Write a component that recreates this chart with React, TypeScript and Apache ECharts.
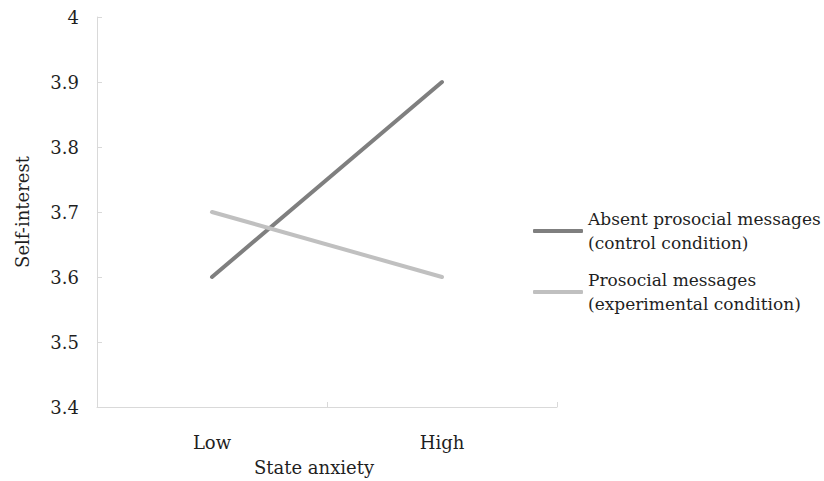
import React, { useEffect, useRef } from "react";
import * as echarts from "echarts";

const categories = ["Low", "High"];
const absentValues = [3.6, 3.9];
const prosocialValues = [3.7, 3.6];
const seriesNames = [
  "Absent prosocial messages\n(control condition)",
  "Prosocial messages\n(experimental condition)",
];
const yTicks = { min: 3.4, max: 4, interval: 0.1 };

const FONT = "DejaVu Serif";
const FS = 18;
const TEXT = "#1f1f1f";

export default function App() {
  const ref = useRef<HTMLDivElement>(null);
  useEffect(() => {
    if (!ref.current) return;
    const chart = echarts.init(ref.current, undefined, { renderer: "svg" });
    chart.setOption({
      animation: false,
      backgroundColor: "#ffffff",
      textStyle: { fontFamily: FONT, color: TEXT },
      grid: {
        left: 97,
        right: 267,
        top: 17,
        bottom: 74,
        containLabel: false,
        outerBoundsMode: "none",
      },
      legend: {
        orient: "vertical",
        left: 533,
        top: 195,
        padding: 0,
        itemGap: -11,
        itemWidth: 50,
        itemHeight: 4,
        icon: "roundRect",
        selectedMode: false,
        data: seriesNames,
        textStyle: {
          fontFamily: FONT,
          fontSize: 17,
          color: TEXT,
          lineHeight: 24,
          padding: [24, 0, 0, 0],
        },
      },
      xAxis: {
        type: "category",
        data: categories,
        boundaryGap: true,
        name: "State anxiety",
        nameLocation: "middle",
        nameGap: 48,
        nameTextStyle: {
          fontFamily: FONT,
          fontSize: FS,
          color: TEXT,
          lineHeight: 24,
          padding: [0, 26, 0, 0],
        },
        axisLine: { lineStyle: { color: "#d9d9d9", width: 1 } },
        axisTick: { show: true, inside: true, length: 5, lineStyle: { color: "#d9d9d9" } },
        axisLabel: { fontFamily: FONT, fontSize: FS, color: TEXT, margin: 26 },
        splitLine: { show: false },
      },
      yAxis: {
        type: "value",
        min: yTicks.min,
        max: yTicks.max,
        interval: yTicks.interval,
        name: "Self-interest",
        nameLocation: "middle",
        nameGap: 66,
        nameTextStyle: { fontFamily: FONT, fontSize: FS, color: TEXT },
        axisLine: { show: true, lineStyle: { color: "#d9d9d9", width: 1 } },
        axisTick: { show: true, inside: true, length: 5, lineStyle: { color: "#d9d9d9" } },
        axisLabel: {
          fontFamily: FONT,
          fontSize: FS,
          color: TEXT,
          margin: 18,
          padding: [8, 0, 0, 0],
          formatter: (v: number) => (Math.abs(v - 4) < 1e-9 ? "4" : v.toFixed(1)),
        },
        splitLine: { show: false },
      },
      series: [
        {
          name: seriesNames[0],
          type: "line",
          data: absentValues,
          symbol: "none",
          color: "#7f7f7f",
          lineStyle: { color: "#7f7f7f", width: 4, cap: "round" },
        },
        {
          name: seriesNames[1],
          type: "line",
          data: prosocialValues,
          symbol: "none",
          color: "#c0c0c0",
          lineStyle: { color: "#c0c0c0", width: 4, cap: "round" },
        },
      ],
    });
    return () => chart.dispose();
  }, []);
  return (
    <div
      ref={ref}
      style={{ position: "fixed", left: 0, top: 0, width: 824, height: 481 }}
    />
  );
}
